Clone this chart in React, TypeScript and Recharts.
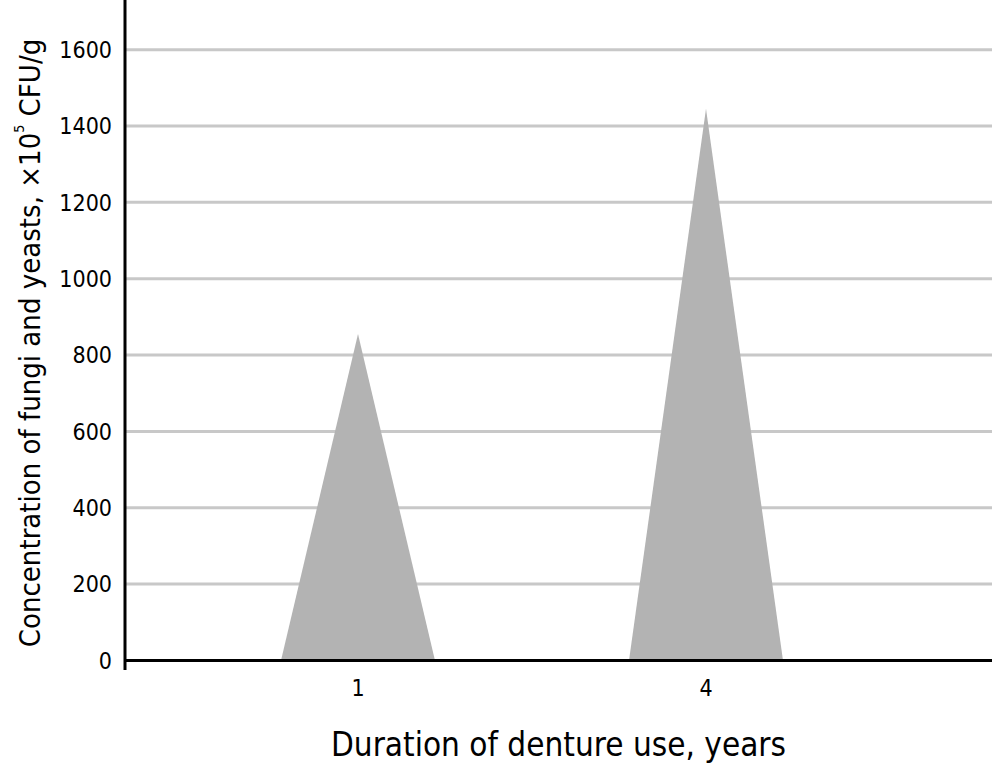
import { BarChart, Bar, XAxis, YAxis, CartesianGrid, ReferenceLine } from 'recharts'

const YEARS = ['1', '4']
const CONCENTRATION = [855, 1445]
const Y_TICKS = [0, 200, 400, 600, 800, 1000, 1200, 1400, 1600]

const data = YEARS.map((year, i) => ({ year, value: CONCENTRATION[i] }))

const FONT = '"DejaVu Sans Condensed", "Liberation Sans Narrow", "Roboto", sans-serif'

function Triangle(props: any) {
  const { x, y, width, height, fill } = props
  if (!height) return null
  const d = `M${x},${y + height} L${x + width / 2},${y} L${x + width},${y + height} Z`
  return <path d={d} fill={fill} />
}

function YLabel(props: any) {
  const { viewBox } = props
  const cy = viewBox.y + viewBox.height / 2 + 8
  const cx = 30
  return (
    <text
      x={cx}
      y={cy}
      transform={`rotate(-90, ${cx}, ${cy})`}
      textAnchor="middle"
      dominantBaseline="central"
      fontFamily={FONT}
      fontSize={29}
      fill="#000"
    >
      Concentration of fungi and yeasts, ×10
      <tspan dy={-11} fontSize={14}>5</tspan>
      <tspan dy={11}> CFU/g</tspan>
    </text>
  )
}

export default function App() {
  return (
    <div style={{ position: 'absolute', left: 0, top: 0, background: '#fff' }}>
      <BarChart width={992} height={768} data={data} margin={{ top: 0, right: 0, bottom: 0, left: 0 }}>
        <CartesianGrid vertical={false} horizontalValues={Y_TICKS} stroke="#c8c8c8" strokeWidth={3} />
        <XAxis
          dataKey="year"
          axisLine={false}
          tickLine={false}
          padding={{ left: 59, right: 112 }}
          height={98}
          tickMargin={4}
          tick={{ fill: '#000', fontSize: 23, fontFamily: FONT }}
          label={{ value: 'Duration of denture use, years', position: 'insideBottom', offset: 12, fill: '#000', fontSize: 33, fontFamily: FONT }}
        />
        <YAxis
          domain={[-25, 1730]}
          ticks={Y_TICKS}
          allowDataOverflow
          width={125}
          tickLine={false}
          tickMargin={7}
          axisLine={{ stroke: '#000', strokeWidth: 3 }}
          tick={{ fill: '#000', fontSize: 23, fontFamily: FONT }}
          label={<YLabel />}
        />
        <ReferenceLine y={0} stroke="#000" strokeWidth={3} />
        <Bar dataKey="value" fill="#b3b3b3" barSize={154} shape={<Triangle />} isAnimationActive={false} />
      </BarChart>
    </div>
  )
}
